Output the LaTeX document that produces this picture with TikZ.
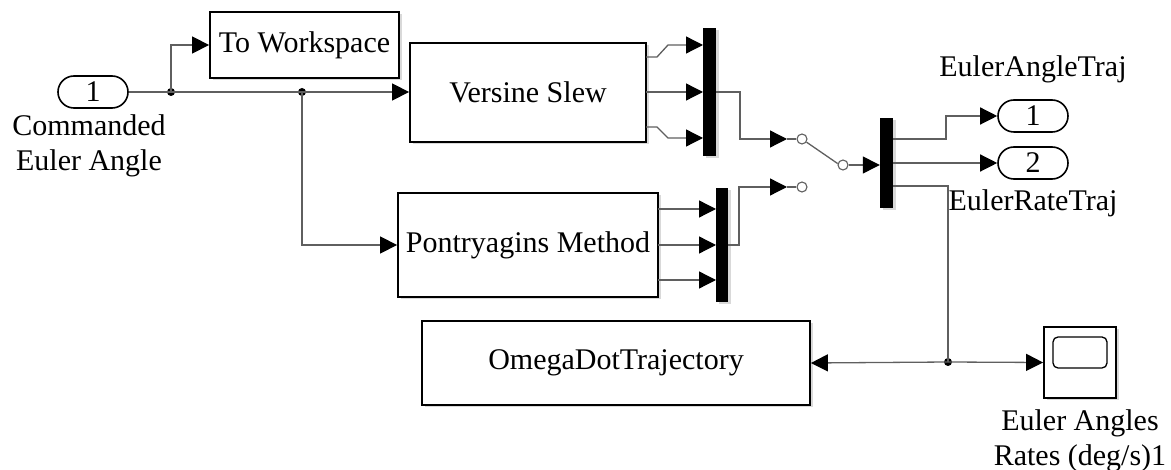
\documentclass[tikz,border=0pt]{standalone}
\usepackage{fontspec}
\setmainfont{Liberation Serif}
\usetikzlibrary{arrows.meta,shapes.misc,shadows}
\definecolor{wirecol}{RGB}{95,95,95}
\begin{document}
\begin{tikzpicture}[x=1pt,y=-1pt,
  every node/.style={font=\fontsize{30}{35}\selectfont},
  blk/.style={draw=black, line width=1.8pt, fill=white, inner sep=0pt,
    drop shadow={shadow xshift=2.5pt, shadow yshift=-2.5pt, opacity=0.3}},
  muxbar/.style={fill=black, draw=none, inner sep=0pt,
    drop shadow={shadow xshift=2.5pt, shadow yshift=-2.5pt, opacity=0.3}},
  port/.style={rounded rectangle, draw=black, line width=1.6pt, fill=white,
    minimum width=70pt, minimum height=32pt, inner sep=0pt},
  wire/.style={draw=wirecol, line width=1.3pt},
  arr/.style={wire, -{Triangle[length=17pt,width=17pt,color=black]}},
  jdot/.style={circle, fill=black, inner sep=0pt, minimum size=8pt},
  swc/.style={circle, draw=wirecol, line width=1.1pt, fill=white, inner sep=0pt, minimum size=10pt},
  lbl/.style={align=center, inner sep=0pt}
]
\useasboundingbox (0,0) rectangle (1171,470);

% blocks
\node[port] (in1) at (93,92) {1};
\node[lbl] (in1lbl) at (89,146) {Commanded\\Euler Angle};
\node[blk, minimum width=189pt, minimum height=66pt] (tows) at (304.5,45) {To Workspace};
\node[blk, minimum width=236pt, minimum height=99pt] (vs) at (528,92.5) {Versine Slew};
\node[muxbar, minimum width=13pt, minimum height=128pt] (mux1) at (709.5,92) {};
\node[blk, minimum width=260pt, minimum height=104pt] (pm) at (528,245) {Pontryagins Method};
\node[muxbar, minimum width=12pt, minimum height=114pt] (mux2) at (722,245) {};
\node[muxbar, minimum width=13pt, minimum height=90pt] (mux3) at (886.5,163) {};
\node[port] (out1) at (1033,116) {1};
\node[port] (out2) at (1033,163) {2};
\node[lbl] (out1lbl) at (1033,69) {EulerAngleTraj};
\node[lbl] (out2lbl) at (1033,203) {EulerRateTraj};
\node[blk, minimum width=388pt, minimum height=84pt] (od) at (616,363) {OmegaDotTrajectory};
\node[blk, minimum width=72pt, minimum height=71pt] (scope) at (1080,362.5) {};
\node[draw=black, line width=1.3pt, rounded corners=5pt, minimum width=54pt, minimum height=31pt, inner sep=0pt] (screen) at (1080,352.5) {};
\node[lbl] (scopelbl) at (1080,441) {Euler Angles\\Rates (deg/s)1};

% switch contacts
\node[swc] (sw1) at (802,139) {};
\node[swc] (sw2) at (802,187) {};
\node[swc] (sw3) at (843,165) {};

% junctions
\node[jdot] (j1) at (171,92) {};
\node[jdot] (j2) at (302,92) {};
\node[jdot] (j3) at (948,362) {};

% port coordinates
\coordinate (vo1) at (646,57);
\coordinate (vo2) at (646,92);
\coordinate (vo3) at (646,127);
\coordinate (mi1) at (703,45);
\coordinate (mi2) at (703,92);
\coordinate (mi3) at (703,138);
\coordinate (po1) at (658,209);
\coordinate (po2) at (658,245);
\coordinate (po3) at (658,280);
\coordinate (ni1) at (716,209);
\coordinate (ni2) at (716,245);
\coordinate (ni3) at (716,280);
\coordinate (sa1) at (787,139);
\coordinate (sa2) at (787,187);
\coordinate (mo1) at (893,139);
\coordinate (mo2) at (893,163);
\coordinate (mo3) at (893,186);

% connectors
\draw[wire] (in1.east) -- (j1.center) -- (j2.center);
\draw[arr] (j2.center) -- (j2.center -| vs.west);
\draw[arr] (j1.center) |- (tows.west);
\draw[arr] (j2.center) |- (pm.west);

\draw[arr] (vo1) -- (657,57) -- (668,45) -- (mi1);
\draw[arr] (vo2) -- (mi2);
\draw[arr] (vo3) -- (657,127) -- (668,138) -- (mi3);

\draw[arr] (po1) -- (ni1);
\draw[arr] (po2) -- (ni2);
\draw[arr] (po3) -- (ni3);

\draw[arr] (mux1.east) -- (740,92) |- (sa1);
\draw[wire] (sa1) -- (sw1.west);
\draw[arr] (mux2.east) -- (739,245) |- (sa2);
\draw[wire] (sa2) -- (sw2.west);
\draw[wire] (sw1.-35) -- (sw3.165);
\draw[arr] (sw3.east) -- (sw3.east -| mux3.west);

\draw[arr] (mo1) -- (946,139) |- (out1.west);
\draw[arr] (mo2) -- (out2.west);
\draw[wire] (mo3) -| (j3.center);
\draw[arr] (j3.center) -- (od.east);
\draw[arr] (j3.center) -- (scope.west);
\end{tikzpicture}
\end{document}
